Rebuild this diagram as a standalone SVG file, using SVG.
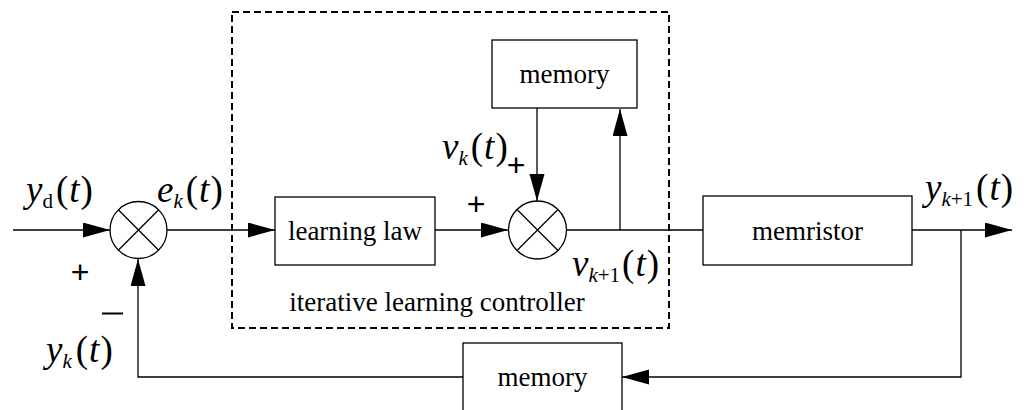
<svg xmlns="http://www.w3.org/2000/svg" width="1030" height="410" viewBox="0 0 1030 410">
  <style>
    .box { fill: #fff; stroke: #000; stroke-width: 1.3; }
    .wire { fill: none; stroke: #000; stroke-width: 1.3; }
    .dash { fill: none; stroke: #000; stroke-width: 2; stroke-dasharray: 7 4; }
    .lbl { font-family: "Liberation Serif", "Times New Roman", serif; font-size: 27px; fill: #000; }
    .m { font-family: "Liberation Serif", "Times New Roman", serif; font-size: 37px; fill: #000; }
    .i { font-style: italic; }
    .s { font-size: 21px; }
    .sign { font-family: "Liberation Sans", Arial, sans-serif; font-size: 32px; fill: #000; }
  </style>
  <defs>
    <marker id="arr" markerWidth="28" markerHeight="16" refX="27" refY="7.5" orient="auto" markerUnits="userSpaceOnUse">
      <path d="M0,0 L27,7.5 L0,15 Z" fill="#000"/>
    </marker>
  </defs>

  <rect width="1030" height="410" fill="#fff"/>

  <!-- controller boundary -->
  <rect class="dash" x="232" y="12" width="437" height="316"/>
  <text class="lbl" x="437" y="311" text-anchor="middle" font-size="26">iterative learning controller</text>

  <g id="connectors">
    <line class="wire" x1="13" y1="230" x2="110" y2="230" marker-end="url(#arr)"/>
    <line class="wire" x1="167" y1="230" x2="275" y2="230" marker-end="url(#arr)"/>
    <line class="wire" x1="435" y1="230" x2="508" y2="230" marker-end="url(#arr)"/>
    <line class="wire" x1="537" y1="108" x2="537" y2="201" marker-end="url(#arr)"/>
    <line class="wire" x1="567" y1="230" x2="703" y2="230"/>
    <line class="wire" x1="620" y1="230" x2="620" y2="109" marker-end="url(#arr)"/>
    <line class="wire" x1="912" y1="230" x2="1012" y2="230" marker-end="url(#arr)"/>
    <polyline class="wire" points="961,230 961,377 622,377" marker-end="url(#arr)"/>
    <polyline class="wire" points="463,377 138,377 138,259" marker-end="url(#arr)"/>
  </g>

  <g id="sum1">
    <circle class="box" cx="138.5" cy="230" r="28.5"/>
    <path class="wire" d="M118.3,209.8 L158.7,250.2 M158.7,209.8 L118.3,250.2"/>
  </g>

  <g id="sum2">
    <circle class="box" cx="537.5" cy="230" r="29"/>
    <path class="wire" d="M517,209.5 L558,250.5 M558,209.5 L517,250.5"/>
  </g>

  <g id="learning-law">
    <rect class="box" x="275" y="197" width="160" height="68"/>
    <text class="lbl" x="355" y="240" text-anchor="middle" font-size="25">learning law</text>
  </g>

  <g id="memory-inner">
    <rect class="box" x="492" y="40" width="145" height="68"/>
    <text class="lbl" x="564.5" y="83" text-anchor="middle">memory</text>
  </g>

  <g id="memristor">
    <rect class="box" x="703" y="196" width="209" height="69"/>
    <text class="lbl" x="807.5" y="240" text-anchor="middle">memristor</text>
  </g>

  <g id="memory-outer">
    <rect class="box" x="463" y="343" width="159" height="80"/>
    <text class="lbl" x="542.5" y="386" text-anchor="middle">memory</text>
  </g>

  <!-- signal labels -->
  <text class="m" y="202"><tspan class="i" x="26">y</tspan><tspan class="s" dy="6">d</tspan><tspan dx="3" dy="-6">(</tspan><tspan class="i" dx="1">t</tspan><tspan dx="1">)</tspan></text>
  <text class="m" y="202"><tspan class="i" x="157">e</tspan><tspan class="s i" dy="6">k</tspan><tspan dx="3" dy="-6">(</tspan><tspan class="i" dx="1">t</tspan><tspan dx="1">)</tspan></text>
  <text class="m" y="362"><tspan class="i" x="46">y</tspan><tspan class="s i" dy="6">k</tspan><tspan dx="4" dy="-6">(</tspan><tspan class="i" dx="1">t</tspan><tspan dx="1">)</tspan></text>
  <text class="m" y="159"><tspan class="i" x="442">v</tspan><tspan class="s i" dy="6">k</tspan><tspan dx="3" dy="-6">(</tspan><tspan class="i" dx="1">t</tspan><tspan dx="1">)</tspan></text>
  <text class="m" y="276"><tspan class="i" x="572">v</tspan><tspan class="s" dy="6"><tspan class="i">k</tspan>+1</tspan><tspan dx="2" dy="-6">(</tspan><tspan class="i" dx="1">t</tspan><tspan dx="1">)</tspan></text>
  <text class="m" y="200"><tspan class="i" x="925">y</tspan><tspan class="s" dy="6"><tspan class="i">k</tspan>+1</tspan><tspan dx="3" dy="-6">(</tspan><tspan class="i" dx="1">t</tspan><tspan dx="1">)</tspan></text>

  <!-- signs -->
  <text class="sign" x="80" y="283" text-anchor="middle">+</text>
  <text class="sign" x="476" y="215" text-anchor="middle">+</text>
  <text class="sign" x="516" y="176" text-anchor="middle">+</text>
  <line x1="102" y1="313.5" x2="123" y2="313.5" stroke="#000" stroke-width="2"/>
</svg>
